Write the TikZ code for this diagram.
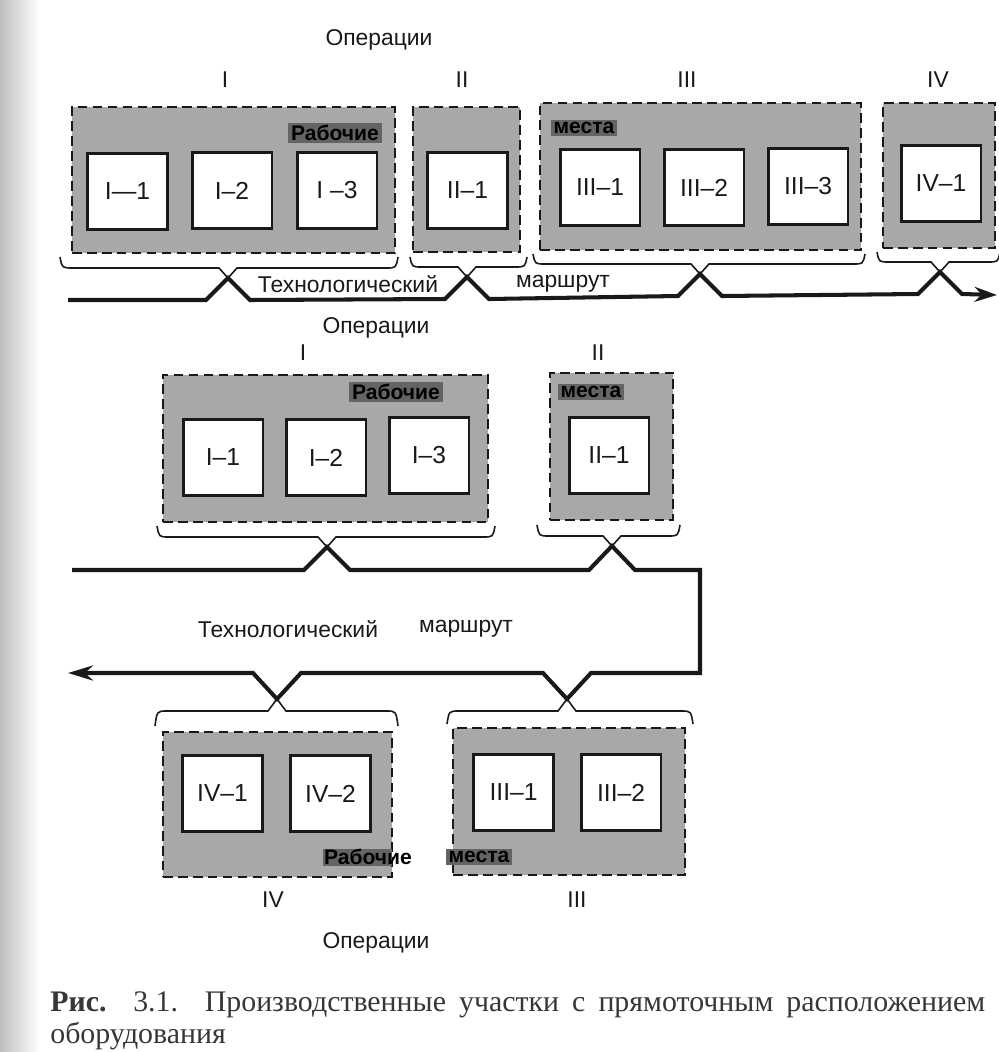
\documentclass[tikz,border=0pt]{standalone}
\usepackage{fontspec}
\setmainfont{Liberation Sans}
\newfontfamily\capfont{Liberation Serif}
\usetikzlibrary{arrows.meta, calc, fit}
\definecolor{zonegray}{RGB}{168,168,168}
\definecolor{hlgray}{RGB}{100,100,100}
\definecolor{inkdark}{RGB}{25,25,25}
\definecolor{capink}{RGB}{55,55,55}
\tikzset{
  zone/.style={rectangle, draw=inkdark, fill=zonegray,
    dash pattern=on 5.5pt off 3pt, line width=1.4pt, inner sep=0pt},
  wplace/.style={rectangle, draw=inkdark, fill=white, line width=1.7pt,
    minimum width=1.6cm, minimum height=1.52cm, text=inkdark,
    font=\fontsize{14pt}{16pt}\selectfont},
  oplabel/.style={font=\fontsize{13pt}{15pt}\selectfont, text=inkdark},
  numlabel/.style={font=\fontsize{13pt}{15pt}\selectfont, text=inkdark},
  hilabel/.style={fill=hlgray, inner sep=1.5pt, text=black,
    font=\bfseries\fontsize{12pt}{14pt}\selectfont},
  route/.style={line width=2.3pt, color=inkdark},
  brace/.style={line width=0.9pt, color=inkdark},
  caption/.style={text width=18.7cm, align=justify, inner sep=0pt, text=capink,
    font=\capfont\fontsize{17pt}{18.6pt}\selectfont}
}

\begin{document}
\begin{tikzpicture}[x=0.02cm, y=-0.02cm]
  \useasboundingbox (0,0) rectangle (998,1052);
  \fill[white] (0,0) rectangle (998,1052);
  \shade[left color=black!25, right color=white] (0,0) rectangle (40,1052);

  % Upper line: operations I--IV
  \node[oplabel] (opT) at (379,40) {Операции};
  \node[numlabel] (nT1) at (225,80) {I};
  \node[numlabel] (nT2) at (462,80) {II};
  \node[numlabel] (nT3) at (687,80) {III};
  \node[numlabel] (nT4) at (938,80) {IV};

  \node[zone, fit={(72,107) (395,253)}] (zT1) {};
  \node[zone, fit={(413,107) (520,252)}] (zT2) {};
  \node[zone, fit={(540,103) (861,250)}] (zT3) {};
  \node[zone, fit={(883,103) (995,248)}] (zT4) {};

  \node[wplace] (wT11) at (127.5,191.5) {I—1};
  \node[wplace] (wT12) at (232,190.5) {I–2};
  \node[wplace] (wT13) at (337,190.5) {I –3};
  \node[wplace] (wT21) at (467.5,190.5) {II–1};
  \node[wplace] (wT31) at (600,187.5) {III–1};
  \node[wplace] (wT32) at (704,187.5) {III–2};
  \node[wplace] (wT33) at (808,186.5) {III–3};
  \node[wplace] (wT41) at (941,183.5) {IV–1};

  \node[hilabel] (hlT1) at (335,133) {Рабочие};
  \node[hilabel] (hlT2) at (584,128) {места};

  % Braces and route, upper line
  \coordinate (tT1) at (228,278);
  \coordinate (tT2) at (467,277);
  \coordinate (tT3) at (700,274);
  \coordinate (tT4) at (940,272);
  \coordinate (rT0) at (68,300);
  \coordinate (rT5) at (997,295);

  \draw[brace] (60,257) .. controls (62,268) .. (73,268) -- ($(tT1)+(-9,-10)$) -- (tT1) -- ($(tT1)+(9,-10)$) -- (386,268) .. controls (396,268) .. (398,257);
  \draw[brace] (410,257) .. controls (412,267) .. (422,267) -- ($(tT2)+(-9,-10)$) -- (tT2) -- ($(tT2)+(9,-10)$) -- (515,267) .. controls (525,267) .. (527,257);
  \draw[brace] (533,254) .. controls (535,264) .. (545,264) -- ($(tT3)+(-9,-10)$) -- (tT3) -- ($(tT3)+(9,-10)$) -- (853,264) .. controls (863,264) .. (865,254);
  \draw[brace] (877,252) .. controls (879,262) .. (889,262) -- ($(tT4)+(-9,-10)$) -- (tT4) -- ($(tT4)+(9,-10)$) -- (988,262) .. controls (998,262) .. (1000,252);

  \draw[route, -{Stealth[length=4.5mm, width=3mm]}] (rT0) -- ($(tT1)+(-22,22)$) -- (tT1) -- ($(tT1)+(22,22)$)
    -- ($(tT2)+(-22,22)$) -- (tT2) -- ($(tT2)+(22,22)$)
    -- ($(tT3)+(-22,22)$) -- (tT3) -- ($(tT3)+(22,22)$)
    -- ($(tT4)+(-22,22)$) -- (tT4) -- ($(tT4)+(22,22)$) -- (rT5);

  \node[oplabel] (rtT1) at (348,284) {Технологический};
  \node[oplabel] (rtT2) at (563,284) {маршрут};

  % Middle line: operations I, II
  \node[oplabel] (opM) at (376,328) {Операции};
  \node[numlabel] (nM1) at (303,353) {I};
  \node[numlabel] (nM2) at (598,353) {II};

  \node[zone, fit={(163,375) (488,522)}] (zM1) {};
  \node[zone, fit={(550,373) (673,520)}] (zM2) {};

  \node[wplace] (wM11) at (223,457.5) {I–1};
  \node[wplace] (wM12) at (326,457.5) {I–2};
  \node[wplace] (wM13) at (429,455.5) {I–3};
  \node[wplace] (wM21) at (609,455.5) {II–1};

  \node[hilabel] (hlM1) at (396,392) {Рабочие};
  \node[hilabel] (hlM2) at (591,392) {места};

  \coordinate (tM1) at (327,547);
  \coordinate (tM2) at (612,546);
  \draw[brace] (157,526) .. controls (159,537) .. (169,537) -- ($(tM1)+(-9,-10)$) -- (tM1) -- ($(tM1)+(9,-10)$) -- (483,537) .. controls (493,537) .. (495,526);
  \draw[brace] (537,525) .. controls (539,536) .. (549,536) -- ($(tM2)+(-9,-10)$) -- (tM2) -- ($(tM2)+(9,-10)$) -- (668,536) .. controls (678,536) .. (680,525);

  % Lower line: operations III, IV (route turns back)
  \coordinate (tB3) at (567,699);
  \coordinate (tB4) at (277,699);
  \coordinate (rM0) at (72,570);
  \coordinate (rC1) at (700,570);
  \coordinate (rC2) at (700,673);
  \coordinate (rB5) at (68,673);

  \draw[route, -{Stealth[length=5mm, width=3mm]}] (rM0) -- ($(tM1)+(-23,23)$) -- (tM1) -- ($(tM1)+(23,23)$)
    -- ($(tM2)+(-23,24)$) -- (tM2) -- ($(tM2)+(23,24)$) -- (rC1) -- (rC2)
    -- ($(tB3)+(24,-26)$) -- (tB3) -- ($(tB3)+(-24,-26)$)
    -- ($(tB4)+(24,-26)$) -- (tB4) -- ($(tB4)+(-24,-26)$) -- (rB5);

  \node[oplabel] (rtB1) at (288,629) {Технологический};
  \node[oplabel] (rtB2) at (466,629) {маршрут};

  \draw[brace] (155,726) .. controls (157,711) .. (167,711) -- ($(tB4)+(-9,12)$) -- (tB4) -- ($(tB4)+(9,12)$) -- (386,711) .. controls (396,711) .. (398,726);
  \draw[brace] (447,724) .. controls (449,711) .. (459,711) -- ($(tB3)+(-9,12)$) -- (tB3) -- ($(tB3)+(9,12)$) -- (681,711) .. controls (691,711) .. (693,724);

  \node[zone, fit={(163,732) (392,877)}] (zB4) {};
  \node[zone, fit={(453,728) (685,875)}] (zB3) {};

  \node[wplace] (wB41) at (222.5,793.5) {IV–1};
  \node[wplace] (wB42) at (330.5,793.5) {IV–2};
  \node[wplace] (wB31) at (513.5,792.5) {III–1};
  \node[wplace] (wB32) at (621,792.5) {III–2};

  \fill[hlgray] (323,849) rectangle (392,866);
  \node[hilabel, fill=none] (hlB1) at (368,857) {Рабочие};
  \node[hilabel] (hlB2) at (479,857) {места};

  \node[numlabel] (nB4) at (273,900) {IV};
  \node[numlabel] (nB3) at (577,900) {III};
  \node[oplabel] (opB) at (376,943) {Операции};

  % Caption
  \node[caption, anchor=base west] (cap) at (50,1011) {\textbf{Рис.} 3.1. Производственные участки с прямоточным расположением\linebreak оборудования};
\end{tikzpicture}
\end{document}
